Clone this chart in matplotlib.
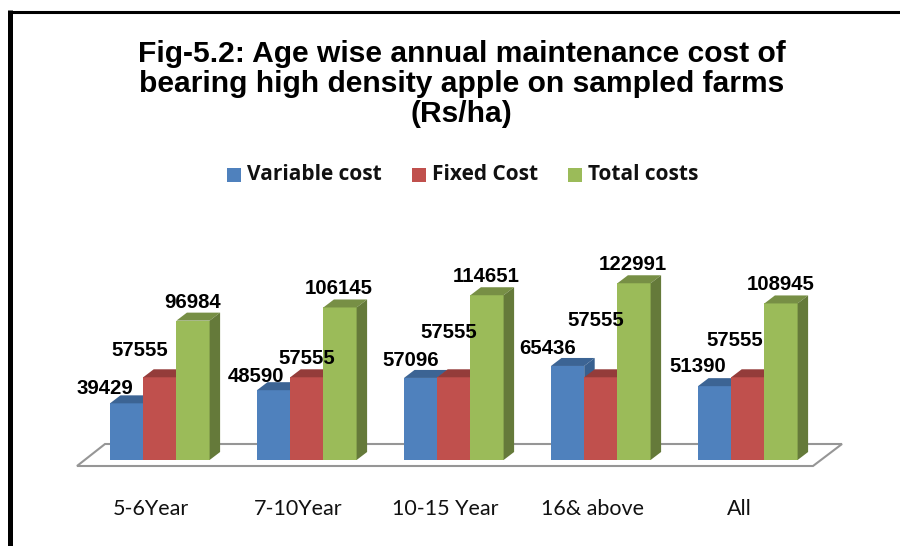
import matplotlib
matplotlib.use("Agg")
import matplotlib.pyplot as plt
from matplotlib.patches import Polygon, Rectangle

categories = ["5-6Year", "7-10Year", "10-15 Year", "16& above", "All"]
variable_cost = [39429, 48590, 57096, 65436, 51390]
fixed_cost = [57555, 57555, 57555, 57555, 57555]
total_costs = [96984, 106145, 114651, 122991, 108945]

series_names = ["Variable cost", "Fixed Cost", "Total costs"]
front_colors = ["#4F81BD", "#C0504D", "#9BBB59"]
top_colors = ["#3C6494", "#943C3A", "#778F45"]
side_colors = ["#38608F", "#7F3331", "#657A3A"]

# hand placed data labels in the original, centre in pixels (one row per series)
label_px_x = [[104.5, 256.5, 410.8, 548, 697.5],
              [139.5, 306.7, 449, 596, 735],
              [192.5, 339, 486, 633, 780.7]]
label_px_y = [[389, 377, 361, 348, 367],
              [351, 359, 333, 320, 340],
              [303, 289, 277, 265, 285]]

# pixel scale of the plot
PX_PER_GROUP = 147.0
PX_PER_UNIT = 0.001437
X0 = 159.8
Y0 = 460.0
BAR_W = 33.2 / PX_PER_GROUP
DEPTH_X = 10.5 / PX_PER_GROUP
DEPTH_Y = 8.0 / PX_PER_UNIT


def px_x(p):
    return (p - X0) / PX_PER_GROUP


def px_y(p):
    return (Y0 - p) / PX_PER_UNIT


def draw_bar(ax, x, h, i):
    ax.add_patch(Rectangle((x, 0), BAR_W, h, fc=front_colors[i], ec="none", zorder=3))
    top = [(x, h), (x + BAR_W, h), (x + BAR_W + DEPTH_X, h + DEPTH_Y), (x + DEPTH_X, h + DEPTH_Y)]
    ax.add_patch(Polygon(top, fc=top_colors[i], ec="none", zorder=3))
    side = [(x + BAR_W, 0), (x + BAR_W + DEPTH_X, DEPTH_Y), (x + BAR_W + DEPTH_X, h + DEPTH_Y), (x + BAR_W, h)]
    ax.add_patch(Polygon(side, fc=side_colors[i], ec="none", zorder=3))


fig = plt.figure(figsize=(9, 5.46), dpi=100)
ax = fig.add_axes([0, 0, 1, 1])
ax.set_xlim(px_x(0), px_x(900))
ax.set_ylim(px_y(546), px_y(0))
ax.axis("off")

# outer frame, only left and top are inside the crop
ax.plot([px_x(10), px_x(10)], [px_y(546), px_y(10)], color="black", lw=3.6, solid_capstyle="butt", zorder=1)
ax.plot([px_x(8), px_x(900)], [px_y(11.5), px_y(11.5)], color="black", lw=2.2, solid_capstyle="butt", zorder=1)

# floor of the 3d chart
floor = [(px_x(77), px_y(466)), (px_x(813), px_y(466)), (px_x(842), px_y(444)), (px_x(105), px_y(444))]
ax.add_patch(Polygon(floor, closed=True, fc="white", ec="#969696", lw=1.5, zorder=2))

series = [variable_cost, fixed_cost, total_costs]
for g in range(len(categories)):
    for i, vals in enumerate(series):
        x = g + (i - 1.5) * BAR_W
        draw_bar(ax, x, vals[g], i)
for g in range(len(categories)):
    for i, vals in enumerate(series):
        ax.text(px_x(label_px_x[i][g]), px_y(label_px_y[i][g]), str(vals[g]), ha="center", va="center",
                fontsize=14.7, fontweight="bold", family="Liberation Sans", color="black", zorder=5)
    ax.text(g - 8.5 / PX_PER_GROUP, px_y(509), categories[g], ha="center", va="center", fontsize=15.5,
            family="Lato", color="#111111")

ax.text(px_x(461.5), px_y(84), "Fig-5.2: Age wise annual maintenance cost of\nbearing high density apple on sampled farms\n(Rs/ha)",
        ha="center", va="center", fontsize=21.6, fontweight="bold", family="Liberation Sans", linespacing=1.08)

# legend
leg_x = [227, 412, 568]
for i, name in enumerate(series_names):
    ax.add_patch(Rectangle((px_x(leg_x[i]), px_y(182)), 14 / PX_PER_GROUP, 14 / PX_PER_UNIT,
                           fc=front_colors[i], ec="none"))
    ax.text(px_x(leg_x[i] + 20), px_y(175), name, ha="left", va="center", fontsize=15,
            fontweight="bold", family="Open Sans", color="#111111")

fig.savefig("out.png", dpi=100)
